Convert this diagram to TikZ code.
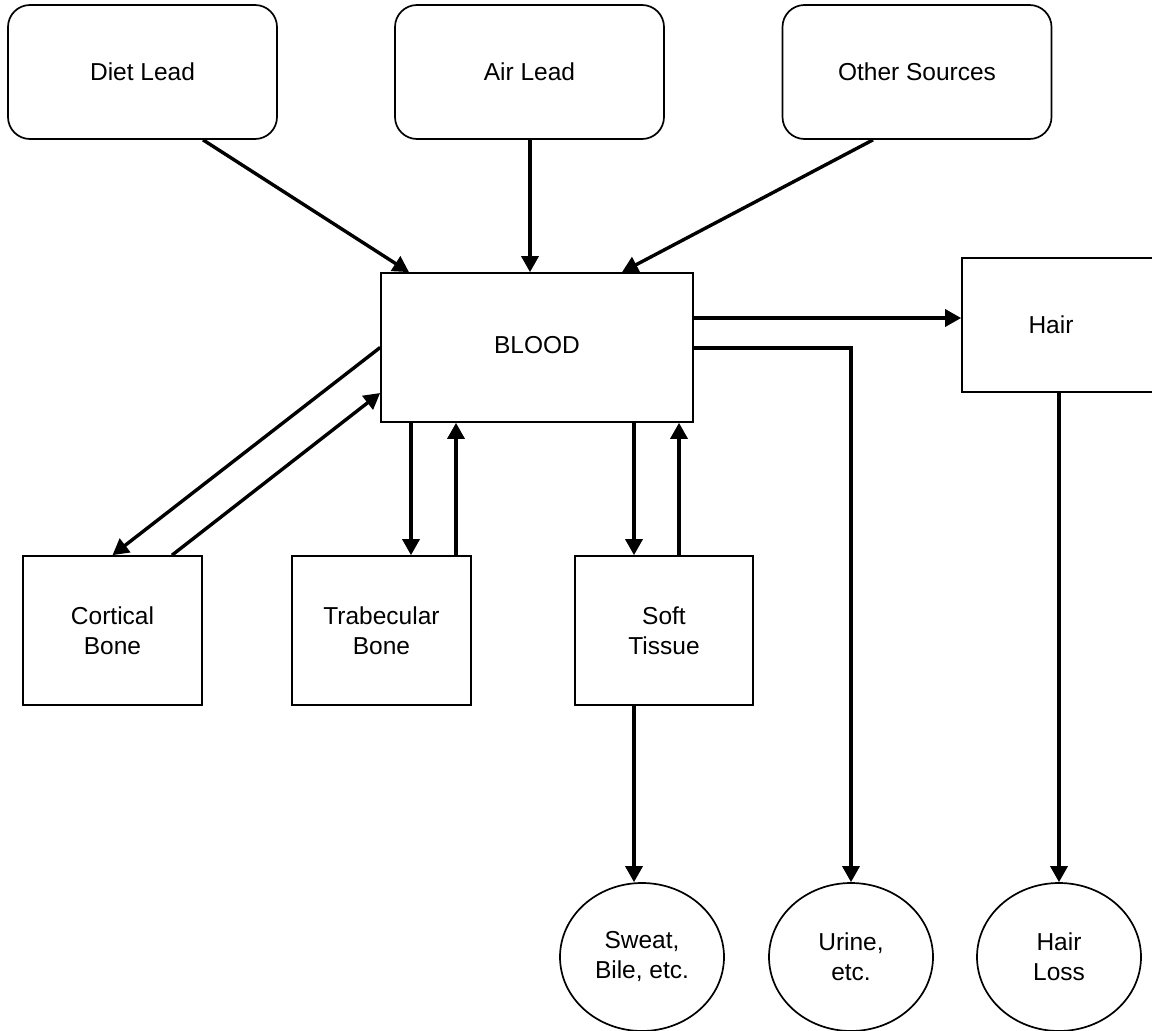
\documentclass[tikz,border=0pt]{standalone}
\usepackage{fontspec}
\setmainfont{Liberation Sans}
\usetikzlibrary{arrows.meta,shapes.geometric,calc}
\begin{document}
\begin{tikzpicture}[x=1pt,y=-1pt,
  every node/.style={font=\fontsize{24.5}{30}\selectfont, align=center, inner sep=0pt},
  srcbox/.style={draw, line width=1.7pt, rounded corners=22pt, minimum width=269pt, minimum height=134pt},
  cbox/.style={draw, line width=1.7pt, minimum width=179pt, minimum height=149pt},
  outlet/.style={draw, line width=1.7pt, ellipse, minimum width=164pt, minimum height=148pt},
  arr/.style={line width=3.4pt, -{Triangle[length=16pt,width=17pt]}}
]
\useasboundingbox (0,0) rectangle (1152,1031);
\clip (0,0) rectangle (1152,1031);
\fill[white] (0,0) rectangle (1152,1031);

\node[srcbox] (diet) at (142.5,72) {Diet Lead};
\node[srcbox] (air) at (529.5,72) {Air Lead};
\node[srcbox] (other) at (917,72) {Other Sources};

\node[draw, line width=1.7pt, minimum width=312pt, minimum height=149pt] (blood) at (537,347.5) {\raisebox{5pt}{BLOOD}};
\node[draw, line width=1.7pt, minimum width=198pt, minimum height=134pt] (hair) at (1061,325) {Hair\hspace*{20pt}};

\node[cbox] (cort) at (112.5,630.5) {Cortical\\Bone};
\node[cbox] (trab) at (381.5,630.5) {Trabecular\\Bone};
\node[cbox, minimum width=178pt] (soft) at (664,630.5) {Soft\\Tissue};

\node[outlet] (sweat) at (642,957) {Sweat,\\Bile, etc.};
\node[outlet] (urine) at (851,957) {Urine,\\etc.};
\node[outlet] (hairloss) at (1059,957) {Hair\\Loss};

% sources to blood
\draw[arr] ([xshift=60.5pt]diet.south) -- ([xshift=-128pt]blood.north);
\draw[arr] ([xshift=0.5pt]air.south) -- ([xshift=-7pt]blood.north);
\draw[arr] ([xshift=-44pt]other.south) -- ([xshift=85pt]blood.north);

% blood to hair and urine
\draw[arr] ([yshift=29.5pt]blood.east) -- ([yshift=29.5pt]blood.east -| hair.west);
\draw[arr] ([yshift=-0.5pt]blood.east) -| (urine.north);
\draw[arr] (hair.south -| hairloss.north) -- (hairloss.north);

% cortical bone exchange
\draw[arr] (blood.west) -- (cort.north);
\draw[arr] ([xshift=59.5pt]cort.north) -- ([yshift=-45.5pt]blood.west);

% trabecular bone exchange
\draw[arr] ([xshift=29.5pt]trab.north |- blood.south) -- ([xshift=29.5pt]trab.north);
\draw[arr] ([xshift=74.5pt]trab.north) -- ([xshift=74.5pt]trab.north |- blood.south);

% soft tissue exchange
\draw[arr] ([xshift=-30pt]soft.north |- blood.south) -- ([xshift=-30pt]soft.north);
\draw[arr] ([xshift=15pt]soft.north) -- ([xshift=15pt]soft.north |- blood.south);
\draw[arr] ([xshift=-30pt]soft.south) -- ([xshift=-30pt]soft.south |- sweat.north);
\end{tikzpicture}
\end{document}
